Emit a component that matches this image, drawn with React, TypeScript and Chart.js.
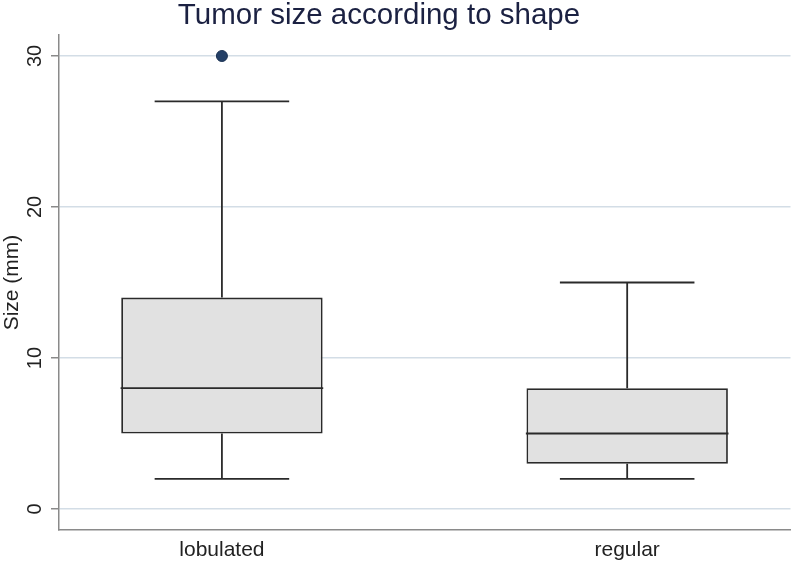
import React, { useEffect, useRef } from "react";
import { Chart, registerables } from "chart.js";

Chart.register(...registerables);

const categories = ["lobulated", "regular"];
const whiskerLow = [2, 2];
const q1 = [5, 3];
const median = [8, 5];
const q3 = [14, 8];
const whiskerHigh = [27, 15];
const outliers = [{ group: 0, value: 30 }];
const yTicks = [0, 10, 20, 30];

const titleText = "Tumor size according to shape";
const yTitle = "Size (mm)";

const BOX_HALF = 0.25;
const CAP_HALF = 0.166;
const LINE = "#2a2a2a";
const FONT = "'Liberation Sans', Arial, sans-serif";

export default function App() {
  const ref = useRef<HTMLCanvasElement | null>(null);

  useEffect(() => {
    document.body.style.margin = "0";
    const canvas = ref.current;
    if (!canvas) return;

    const lineDs = (pts: { x: number; y: number }[]) => ({
      type: "line" as const,
      data: pts,
      borderColor: LINE,
      borderWidth: 1.8,
      pointRadius: 0,
      fill: false,
      order: 1,
    });

    const segs: any[] = [];
    categories.forEach((_, i) => {
      segs.push(lineDs([{ x: i, y: q3[i] }, { x: i, y: whiskerHigh[i] }]));
      segs.push(lineDs([{ x: i, y: whiskerLow[i] }, { x: i, y: q1[i] }]));
      segs.push(lineDs([{ x: i - CAP_HALF, y: whiskerHigh[i] }, { x: i + CAP_HALF, y: whiskerHigh[i] }]));
      segs.push(lineDs([{ x: i - CAP_HALF, y: whiskerLow[i] }, { x: i + CAP_HALF, y: whiskerLow[i] }]));
      segs.push(lineDs([{ x: i - BOX_HALF, y: median[i] }, { x: i + BOX_HALF, y: median[i] }]));
    });

    const textPlugin = {
      id: "stataText",
      afterDraw(chart: any) {
        const ctx = chart.ctx;
        ctx.save();
        ctx.fillStyle = "#1b2142";
        ctx.font = `29.5px ${FONT}`;
        ctx.textAlign = "center";
        ctx.textBaseline = "alphabetic";
        ctx.fillText(titleText, 379, 24);
        ctx.restore();

        const ys = chart.scales.y;
        ctx.save();
        ctx.fillStyle = "#222";
        ctx.font = `20px ${FONT}`;
        ctx.textAlign = "center";
        ctx.textBaseline = "middle";
        yTicks.forEach((v) => {
          const py = ys.getPixelForValue(v);
          ctx.save();
          ctx.translate(35, py);
          ctx.rotate(-Math.PI / 2);
          ctx.fillText(String(v), 0, 0);
          ctx.restore();
        });
        ctx.restore();
      },
    };

    const chart = new Chart(canvas, {
      type: "bar",
      data: {
        datasets: [
          {
            type: "bar",
            data: categories.map((_, i) => ({ x: i, y: [q1[i], q3[i]] })) as any,
            backgroundColor: "#e1e1e1",
            borderColor: LINE,
            borderWidth: 1.8,
            borderSkipped: false,
            barPercentage: 0.497,
            categoryPercentage: 1,
            order: 2,
          } as any,
          ...segs,
          {
            type: "scatter",
            data: outliers.map((o) => ({ x: o.group, y: o.value })),
            backgroundColor: "#233f66",
            borderColor: "#1c3354",
            borderWidth: 1,
            pointRadius: 5.5,
            order: 0,
          } as any,
        ],
      },
      options: {
        animation: false,
        responsive: false,
        maintainAspectRatio: false,
        layout: { padding: { top: 35, right: 3, left: 0, bottom: 0 } },
        plugins: {
          legend: { display: false },
          tooltip: { enabled: false },
          title: { display: false },
        },
        scales: {
          x: {
            type: "linear",
            min: -0.402,
            max: 1.403,
            offset: false,
            grid: { display: false, drawTicks: false },
            border: { display: true, color: "#8a8a8a", width: 1.5 },
            afterBuildTicks: (scale: any) => {
              scale.ticks = categories.map((_, i) => ({ value: i }));
            },
            ticks: {
              padding: 8,
              color: "#222",
              font: { size: 21, family: FONT },
              callback: (v: any) => categories[Math.round(Number(v))] ?? "",
              maxRotation: 0,
              minRotation: 0,
            },
            afterFit: (scale: any) => {
              scale.height = 35;
            },
          },
          y: {
            type: "linear",
            min: -1.39,
            max: 31.39,
            afterBuildTicks: (scale: any) => {
              scale.ticks = yTicks.map((v) => ({ value: v }));
            },
            grid: {
              color: "#d3dde6",
              lineWidth: 1.5,
              tickLength: 8,
              tickColor: "#8a8a8a",
              drawTicks: true,
            },
            border: { display: true, color: "#8a8a8a", width: 1.5 },
            ticks: {
              display: false,
            },
            title: {
              display: true,
              text: yTitle,
              color: "#222",
              padding: { top: 0, bottom: 0 },
              font: { size: 21, family: FONT },
            },
            afterFit: (scale: any) => {
              scale.width = 59;
            },
          },
        },
      } as any,
      plugins: [textPlugin],
    });

    return () => chart.destroy();
  }, []);

  return (
    <div style={{ width: 797, height: 565, background: "#fff" }}>
      <canvas ref={ref} width={797} height={565} style={{ display: "block" }} />
    </div>
  );
}
